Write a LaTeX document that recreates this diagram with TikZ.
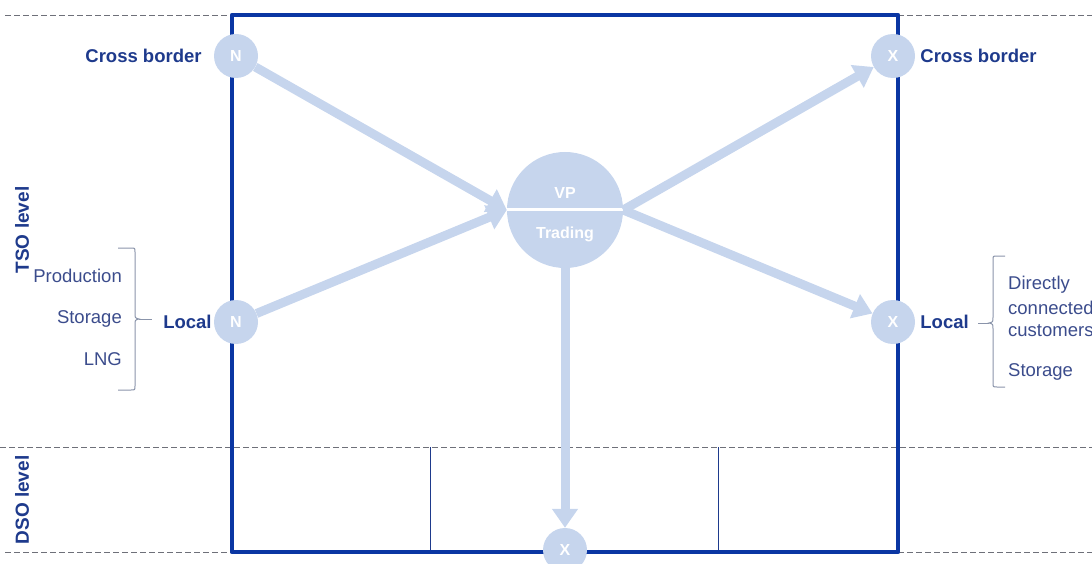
\documentclass[tikz,border=0pt]{standalone}
\usepackage{fontspec}
\setmainfont{Liberation Sans}
\usetikzlibrary{arrows.meta,positioning,calc}
\definecolor{frameblue}{HTML}{0A36A3}
\definecolor{labblue}{HTML}{1E3A8C}
\definecolor{txtblue}{HTML}{3B4C8C}
\definecolor{hubblue}{HTML}{C6D5ED}
\definecolor{dashgray}{HTML}{6E7079}
\definecolor{bracegray}{HTML}{8A94AA}

\begin{document}
\begin{tikzpicture}[x=1pt,y=-1pt,
  hub/.style={circle,fill=hubblue,text=white,font=\bfseries\fontsize{16}{16}\selectfont,minimum size=44pt,inner sep=0pt},
  flow/.style={draw=hubblue,line width=9pt,-{Triangle[length=19pt,width=25pt]}},
  lab/.style={text=labblue,font=\bfseries\fontsize{18.5}{20}\selectfont,inner sep=0pt},
  item/.style={text=txtblue,font=\fontsize{18.5}{20}\selectfont,inner sep=0pt},
  level/.style={text=labblue,font=\bfseries\fontsize{19}{20}\selectfont,rotate=90,inner sep=0pt},
  sep/.style={draw=dashgray,line width=0.9pt,dash pattern=on 6pt off 3pt},
  brace/.style={draw=bracegray,line width=1pt}]
  \useasboundingbox (0,0) rectangle (1092,564);
  % level separators
  \draw[sep] (5,15) -- (232,15);
  \draw[sep] (898,15) -- (1092,15);
  \draw[sep] (0,447) -- (1092,447);
  \draw[sep] (5,552) -- (232,552);
  \draw[sep] (898,552) -- (1092,552);
  % market area
  \foreach \x in {430,718}{
    \draw[labblue,line width=1pt] (\x,447) -- (\x,552);
  }
  \draw[frameblue,line width=4.5pt,line join=round] (232,15) rectangle (898,552);
  % entry / exit points
  \node[hub] (ncb) at (236,56) {N};
  \node[hub] (nloc) at (236,322) {N};
  \node[hub] (xcb) at (893,56) {X};
  \node[hub] (xloc) at (893,322) {X};
  \node[hub] (xdso) at (565,550) {X};
  % virtual point
  \node[hub,minimum size=116pt] (vp) at (565,210) {};
  \draw[white,line width=3pt] (vp.west) -- (vp.east);
  \node[hub,minimum size=0pt,fill=none] (vplab) at (565,193) {VP};
  \node[hub,minimum size=0pt,fill=none] (trlab) at (565,234) {Trading};
  % flows
  \draw[flow] (ncb) -- (vp.west);
  \draw[flow] (nloc) -- (vp.west);
  \draw[flow] (vp.east) -- (xcb);
  \draw[flow] (vp.east) -- (xloc);
  \draw[flow] (vp.south) -- (xdso);
  % labels
  \node[lab,left=12pt of ncb] (cbin) {Cross border};
  \node[lab,left=2pt of nloc] (locin) {Local};
  \node[lab,right=5pt of xcb] (cbout) {Cross border};
  \node[lab,right=5pt of xloc] (locout) {Local};
  \node[level] (tso) at (22,230) {TSO level};
  \node[level] (dso) at (22,500) {DSO level};
  % sources
  \foreach \t/\y in {Production/276,Storage/319,LNG/359}{
    \node[item,anchor=east] (src-\t) at (122,\y) {\t};
  }
  \draw[brace] (118,248) -- (131,248) .. controls (135,248) .. (135,252) -- (135,313)
    .. controls (135,318) .. (139,319) .. controls (135,320) .. (135,325) -- (135,386)
    .. controls (135,390) .. (131,390) -- (118,390);
  \coordinate (ltip) at (139,319);
  \coordinate (lend) at (152,319);
  \draw[brace] (ltip) -- (lend);
  % sinks
  \foreach \t/\y in {Directly/285,connected/308,customers/331,Storage/372}{
    \node[item,anchor=west] (snk-\t) at (1008,\y) {\t};
  }
  \draw[brace] (1005,256) -- (997,256) .. controls (993,256) .. (993,260) -- (993,317)
    .. controls (993,322) .. (989,323) .. controls (993,324) .. (993,329) -- (993,383)
    .. controls (993,387) .. (997,387) -- (1005,387);
  \coordinate (rtip) at (989,323);
  \coordinate (rend) at (978,323);
  \draw[brace] (rtip) -- (rend);
\end{tikzpicture}
\end{document}
